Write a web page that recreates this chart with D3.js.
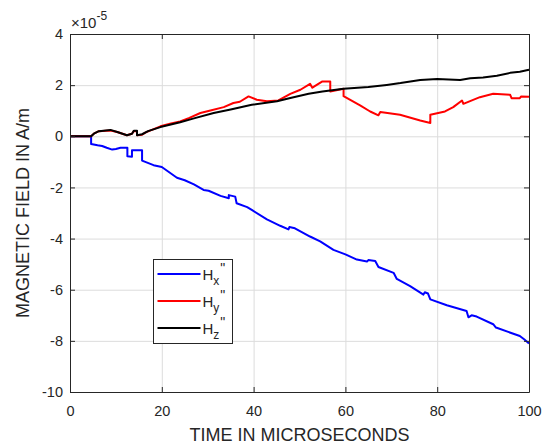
<!DOCTYPE html>
<html>
<head>
<meta charset="utf-8">
<script src="https://cdn.jsdelivr.net/npm/d3@7"></script>
<style>
  body { margin: 0; background: #fff; }
  svg text { font-family: "Liberation Sans", Arial, Helvetica, sans-serif; fill: #262626; }
</style>
</head>
<body>
<div id="chart"></div>
<script>
// values in units of 1e-5 A/m
var hxTime = [0,4.6,4.6,6,7,8,9.2,10,11,12.5,12.5,13.5,13.5,15.7,15.7,18.2,20,23.3,25,27,29.1,30.2,32.8,34.6,34.6,36,36.3,38.6,39.6,42.9,45.8,47.6,47.8,49,52.3,54.5,57.4,60,62.5,64.7,65,66.5,67.2,70.5,71.2,74.1,77,77.3,78,78.5,82.1,86.4,86.8,87.5,88.6,92.2,92.8,98,99,100];
var hxVals = [0,0,-0.3,-0.35,-0.38,-0.45,-0.52,-0.5,-0.45,-0.45,-0.78,-0.8,-0.55,-0.55,-0.95,-1.13,-1.2,-1.62,-1.72,-1.88,-2.1,-2.13,-2.33,-2.42,-2.3,-2.36,-2.62,-2.77,-2.88,-3.25,-3.5,-3.64,-3.55,-3.6,-3.92,-4.11,-4.44,-4.62,-4.82,-4.9,-4.84,-4.88,-5.11,-5.34,-5.58,-5.86,-6.19,-6.1,-6.15,-6.38,-6.61,-6.83,-7.08,-7.0,-7.05,-7.35,-7.48,-7.81,-7.95,-8.1];

var hyTime = [0,4.6,5.2,6.3,8.8,10.3,12.4,13.5,13.9,14.6,14.6,15.7,16.5,19.7,22,24,26,28.4,30.6,33.5,35.6,37,38.9,40.7,42.9,45.4,48,50.2,52.3,52.8,54.9,56.7,56.7,59.6,59.6,63.2,65.4,67.2,67.6,71.9,76.3,78.5,78.5,81.7,83.5,85.4,85.7,89.3,92.2,95.9,96.2,98,98.3,100];
var hyVals = [0,0,0.1,0.2,0.23,0.17,0.04,0.1,0.2,0.2,0.04,0.06,0.15,0.39,0.5,0.58,0.72,0.91,1.01,1.14,1.3,1.35,1.56,1.43,1.37,1.4,1.66,1.82,2.05,1.9,2.14,2.14,1.75,1.86,1.57,1.21,0.97,0.82,0.95,0.84,0.62,0.52,0.84,0.97,1.14,1.4,1.27,1.53,1.66,1.62,1.49,1.49,1.56,1.55];

var hzTime = [0,4.6,5.2,6.3,8.8,10.3,12.4,13.5,13.9,14.6,14.6,15.7,17,19.7,24,27,31.3,35,39.6,45.1,48,52,55,59.6,65,69,72,76.3,80,85,87.2,90,93,95.9,98,100];
var hzVals = [0,0,0.1,0.2,0.25,0.17,0.04,0.1,0.22,0.22,0.04,0.08,0.2,0.36,0.55,0.7,0.91,1.05,1.23,1.37,1.5,1.66,1.75,1.86,1.93,2.01,2.08,2.2,2.24,2.2,2.27,2.3,2.37,2.48,2.52,2.6];

var seriesNames = ["x", "y", "z"];
var seriesColors = ["#0000ff", "#ff0000", "#000000"];
var xTicks = [0, 20, 40, 60, 80, 100];
var yTicks = [-10, -8, -6, -4, -2, 0, 2, 4];

var margin = {top: 34, right: 14, bottom: 52, left: 70},
    width = 543 - margin.left - margin.right,
    height = 444 - margin.top - margin.bottom;

var svg = d3.select("#chart").append("svg")
    .attr("width", 543).attr("height", 444)
    .append("g")
    .attr("transform", "translate(" + margin.left + "," + margin.top + ")");

var x = d3.scaleLinear().domain([0, 100]).range([0, width]);
var y = d3.scaleLinear().domain([-10, 4]).range([height, 0]);

// grid
svg.append("g").selectAll("line").data(xTicks).enter().append("line")
    .attr("x1", d => x(d) + 0.5).attr("x2", d => x(d) + 0.5)
    .attr("y1", 0).attr("y2", height)
    .attr("stroke", "#dcdcdc").attr("stroke-width", 1);
svg.append("g").selectAll("line").data(yTicks).enter().append("line")
    .attr("y1", d => y(d) + 0.5).attr("y2", d => y(d) + 0.5)
    .attr("x1", 0).attr("x2", width)
    .attr("stroke", "#dcdcdc").attr("stroke-width", 1);

// lines
var series = [
  {time: hxTime, vals: hxVals},
  {time: hyTime, vals: hyVals},
  {time: hzTime, vals: hzVals}
];
var line = d3.line().x(d => x(d[0])).y(d => y(d[1]));
series.forEach(function(s, i) {
  var pts = s.time.map((t, j) => [t, s.vals[j]]);
  svg.append("path").datum(pts)
    .attr("fill", "none")
    .attr("stroke", seriesColors[i])
    .attr("stroke-width", 2)
    .attr("stroke-linejoin", "round")
    .attr("d", line);
});

// axes (MATLAB box with inward ticks)
function styleAxis(g) {
  g.selectAll("path").attr("stroke", "#262626");
  g.selectAll("line").attr("stroke", "#262626");
  g.selectAll("text").attr("fill", "#262626").style("font-size", "14.5px")
    .style("font-family", "'Liberation Sans', Arial, sans-serif");
}
var fmt = d => String(d);
svg.append("g").attr("transform", "translate(0," + height + ")")
  .call(d3.axisBottom(x).tickValues(xTicks).tickFormat(fmt).tickSizeInner(-5).tickSizeOuter(0).tickPadding(14))
  .call(styleAxis);
svg.append("g")
  .call(d3.axisLeft(y).tickValues(yTicks).tickFormat(fmt).tickSizeInner(-5).tickSizeOuter(0).tickPadding(7))
  .call(styleAxis);
svg.append("g")
  .call(d3.axisTop(x).tickValues(xTicks).tickSizeInner(-5).tickSizeOuter(0).tickFormat(""))
  .call(styleAxis);
svg.append("g").attr("transform", "translate(" + width + ",0)")
  .call(d3.axisRight(y).tickValues(yTicks).tickSizeInner(-5).tickSizeOuter(0).tickFormat(""))
  .call(styleAxis);

// exponent label
var ex = svg.append("text").attr("x", 1).attr("y", -6).style("font-size", "15px");
ex.append("tspan").text("\u00d710");
ex.append("tspan").attr("dy", -8).style("font-size", "12px").text("-5");

// axis titles
svg.append("text")
  .attr("x", width / 2).attr("y", height + 49)
  .attr("text-anchor", "middle").style("font-size", "18px")
  .text("TIME IN MICROSECONDS");
svg.append("text")
  .attr("transform", "translate(" + (-41) + "," + (height / 2) + ") rotate(-90)")
  .attr("text-anchor", "middle").style("font-size", "18px")
  .text("MAGNETIC FIELD IN A/m");

// legend
var lg = svg.append("g").attr("transform", "translate(" + (153.5 - margin.left) + "," + (259.5 - margin.top) + ")");
lg.append("rect").attr("width", 79).attr("height", 84)
  .attr("fill", "#fff").attr("stroke", "#262626").attr("stroke-width", 1);
seriesNames.forEach(function(n, i) {
  var yy = 14.5 + i * 27;
  lg.append("line").attr("x1", 4).attr("x2", 47).attr("y1", yy).attr("y2", yy)
    .attr("stroke", seriesColors[i]).attr("stroke-width", 2);
  var t = lg.append("text").attr("x", 49).attr("y", yy + 6).style("font-size", "15px");
  t.append("tspan").text("H");
  t.append("tspan").attr("dy", 5).style("font-size", "12px").text(n);
  t.append("tspan").attr("dy", -12).attr("dx", 1).style("font-size", "14px").text('"');
});
</script>
</body>
</html>
